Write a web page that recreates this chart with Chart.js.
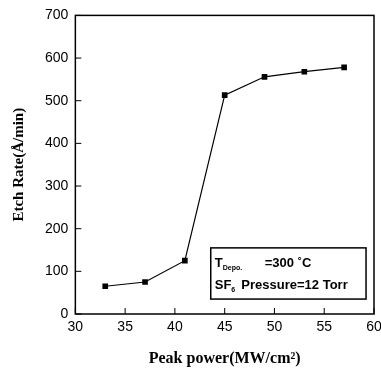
<!DOCTYPE html>
<html>
<head>
<meta charset="UTF-8">
<title>Etch rate vs peak power</title>
<script src="https://cdn.jsdelivr.net/npm/chart.js"></script>
<style>
  body { margin: 0; background: #fff; }
  #chart { display: block; }
</style>
</head>
<body>
<canvas id="chart" width="381" height="372"></canvas>
<script>
// data
const peakPower = [33, 37, 41, 45, 49, 53, 57];
const etchRate = [65, 75, 125, 513, 556, 568, 578];
const xTicks = [30, 35, 40, 45, 50, 55, 60];
const yTicks = [0, 100, 200, 300, 400, 500, 600, 700];

// inset label box, in data units
const boxX = [43.6, 59.2];
const boxY = [35, 155];

// frame, inward ticks and the condition box
const framePlugin = {
  id: 'frame',
  afterDraw(chart) {
    const ctx = chart.ctx;
    const a = chart.chartArea;
    const xs = chart.scales.x, ys = chart.scales.y;
    ctx.save();
    ctx.strokeStyle = '#000';
    ctx.lineWidth = 1.5;
    ctx.strokeRect(a.left, a.top, a.right - a.left, a.bottom - a.top);

    ctx.lineWidth = 1;
    ctx.beginPath();
    yTicks.forEach(v => {
      const y = ys.getPixelForValue(v);
      ctx.moveTo(a.left, y);
      ctx.lineTo(a.left + 6, y);
    });
    xTicks.forEach(v => {
      const x = xs.getPixelForValue(v);
      ctx.moveTo(x, a.bottom);
      ctx.lineTo(x, a.bottom - 6);
    });
    ctx.stroke();

    // condition box
    const bl = xs.getPixelForValue(boxX[0]), br = xs.getPixelForValue(boxX[1]);
    const bt = ys.getPixelForValue(boxY[1]), bb = ys.getPixelForValue(boxY[0]);
    ctx.lineWidth = 1.5;
    ctx.strokeRect(bl, bt, br - bl, bb - bt);

    ctx.fillStyle = '#000';
    ctx.textBaseline = 'alphabetic';
    ctx.textAlign = 'left';
    const tx = bl + 4;
    const line1 = bt + 19, line2 = bt + 41;
    const big = 'bold 13px Arial, "Liberation Sans", sans-serif';
    const small = 'bold 7px Arial, "Liberation Sans", sans-serif';
    ctx.font = big;
    ctx.fillText('T', tx, line1);
    let w = ctx.measureText('T').width;
    ctx.font = small;
    ctx.fillText('Depo.', tx + w, line1 + 3);
    ctx.font = big;
    ctx.fillText('=300 \u02DAC', tx + 50, line1);

    ctx.fillText('SF', tx, line2);
    w = ctx.measureText('SF').width;
    ctx.font = small;
    ctx.fillText('6', tx + w, line2 + 3);
    ctx.font = big;
    ctx.fillText('Pressure=12 Torr', tx + w + 10, line2);
    ctx.restore();
  }
};

const ctx = document.getElementById('chart').getContext('2d');
new Chart(ctx, {
  type: 'scatter',
  data: {
    datasets: [{
      data: peakPower.map((p, i) => ({ x: p, y: etchRate[i] })),
      showLine: true,
      borderColor: '#000',
      borderWidth: 1.2,
      backgroundColor: '#000',
      pointStyle: 'rect',
      pointRadius: 4,
      pointBorderWidth: 0,
      tension: 0
    }]
  },
  options: {
    responsive: false,
    animation: false,
    layout: { padding: { left: 10, right: 7, top: 10, bottom: 4 } },
    plugins: {
      legend: { display: false },
      tooltip: { enabled: false }
    },
    scales: {
      x: {
        type: 'linear',
        min: 30, max: 60,
        afterBuildTicks: s => { s.ticks = xTicks.map(v => ({ value: v })); },
        afterFit: s => { s.paddingRight = 0; },
        grid: { display: false, drawTicks: false },
        border: { display: false },
        ticks: { color: '#000', padding: 5, maxRotation: 0,
                 font: { family: 'Arial, "Liberation Sans", sans-serif', size: 14 } },
        title: { display: true, text: 'Peak power(MW/cm\u00B2)', color: '#000',
                 padding: { top: 8, bottom: 0 },
                 font: { family: '"Liberation Serif", serif', size: 16, weight: 'bold' } }
      },
      y: {
        min: 0, max: 700,
        afterBuildTicks: s => { s.ticks = yTicks.map(v => ({ value: v })); },
        grid: { display: false, drawTicks: false },
        border: { display: false },
        ticks: { color: '#000', padding: 7,
                 font: { family: 'Arial, "Liberation Sans", sans-serif', size: 14 } },
        title: { display: true, text: 'Etch Rate(\u00C5/min)', color: '#000',
                 padding: { top: 0, bottom: 10 },
                 font: { family: '"Liberation Serif", serif', size: 15, weight: 'bold' } }
      }
    }
  },
  plugins: [framePlugin]
});
</script>
</body>
</html>
